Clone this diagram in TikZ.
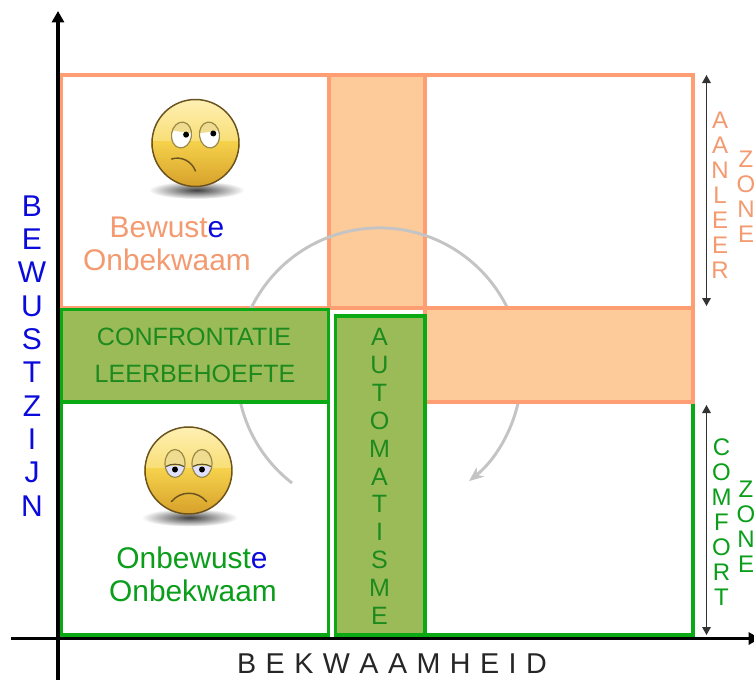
\documentclass[tikz,border=0pt]{standalone}
\usepackage{fontspec}
\setmainfont{Liberation Sans}
\usetikzlibrary{arrows.meta}
\definecolor{orline}{HTML}{FF9E72}
\definecolor{orfill}{HTML}{FDCB9A}
\definecolor{ortext}{HTML}{F49A70}
\definecolor{grline}{HTML}{0BAA14}
\definecolor{grfill}{HTML}{9BBB59}
\definecolor{grtext}{HTML}{0A9E1A}
\definecolor{darkgr}{HTML}{1E8A1E}
\definecolor{blu}{HTML}{0A0ADC}
\definecolor{arcgray}{HTML}{C4C4C4}
\definecolor{faceline}{HTML}{6B5320}
\definecolor{lid}{HTML}{F0DC90}
\definecolor{rim}{HTML}{9A8A48}
\definecolor{glosstop}{HTML}{FFF0B4}
\definecolor{glossbot}{HTML}{F8DE76}
\definecolor{bodytop}{HTML}{F6D24C}
\definecolor{bodybot}{HTML}{D6A02A}
\tikzset{
 x=0.75pt,y=-0.75pt,
 orframe/.style={draw=orline,line width=2.7pt},
 orbox/.style={draw=orline,line width=2.7pt,fill=orfill},
 grframe/.style={draw=grline,line width=2.8pt},
 grbox/.style={draw=grline,line width=2.8pt,fill=grfill},
 axisline/.style={black,line width=2.4pt,-{Triangle[length=8.5pt,width=9pt]}},
 zonearrow/.style={black!80,line width=0.8pt,{Triangle[length=6pt,width=6.5pt]}-{Triangle[length=6pt,width=6.5pt]}},
 cyc/.style={arcgray,line width=2.2pt,-{Stealth[length=11pt,width=9pt,inset=3.5pt]}},
 facecap/.style={inner sep=0pt,anchor=base,font=\fontsize{22.4}{24}\selectfont},
 boxcap/.style={inner sep=0pt,anchor=base,text=darkgr,font=\fontsize{18.8}{20}\selectfont},
 autostack/.style={inner sep=0pt,align=center,text=darkgr,font=\fontsize{18.8}{20.9}\selectfont},
 bigstack/.style={inner sep=0pt,align=center,text=blu,font=\fontsize{22.5}{25}\selectfont},
 zonestack/.style={inner sep=0pt,align=center,font=\fontsize{18}{18.8}\selectfont},
 facemouth/.style={faceline,line width=1.1pt,line cap=round},
}
\newcommand{\facebase}{%
 \shade[inner color=black!75,outer color=white] (1,47) ellipse (48 and 9);
 \begin{scope}
  \clip (0,0) circle (44);
  \shade[top color=glosstop,bottom color=glossbot] (-44,-44) rectangle (44,-2);
  \shade[top color=bodytop,bottom color=bodybot] (-44,-2) rectangle (44,44);
 \end{scope}
 \draw[faceline,line width=1.1pt] (0,0) circle (43.5);
}
\newcommand{\lookeye}[3]{% x, pupil offset, tilt
 \begin{scope}[shift={(#1,-8)},rotate=#3]
  \fill[lid] (0,0) ellipse (10 and 13);
  \begin{scope}
   \clip (0,0) ellipse (10 and 13);
   \fill[white] (-12,-3) rectangle (12,14);
  \end{scope}
  \draw[rim,line width=.9pt] (0,0) ellipse (10 and 13);
  \fill[black] (#2,-1) circle (3);
 \end{scope}
}
\newcommand{\sadeye}[1]{%
 \begin{scope}[shift={(#1,-7)}]
  \fill[lid] (0,0) ellipse (10 and 14);
  \begin{scope}
   \clip (0,0) ellipse (10 and 14);
   \fill[white!88!blue] (-12,2) rectangle (12,15);
  \end{scope}
  \draw[rim,line width=.9pt] (0,0) ellipse (10 and 14);
  \draw[black!40!rim,line width=.9pt] (-9,3) .. controls (-4,0) and (4,0) .. (9,3);
  \fill[black] (0,6) circle (3);
 \end{scope}
}
\begin{document}
\begin{tikzpicture}
\useasboundingbox (0,0) rectangle (754,679);
\fill[white] (0,0) rectangle (754,679);
% upper frames and vertical orange bar
\draw[orframe] (61,75) rectangle (329,308);
\draw[orframe] (425,75) rectangle (693,308);
\draw[orbox] (329,75) rectangle (425,308);
% cycle arrow, running behind the horizontal bars
\draw[cyc] (292,483) arc[start angle=127.8,end angle=411,radius=142.5];
% lower frames
\draw[grframe] (693,402) -- (693,635) -- (425,635);
\draw[orbox] (425,308) rectangle (693,402);
\draw[grframe] (61,402) rectangle (328.5,635);
\draw[grbox] (61,309.5) rectangle (328.5,402);
\draw[grbox] (335.5,316) rectangle (425,635);
% axes
\coordinate (yfoot) at (58,680);
\coordinate (ytip) at (58,11);
\coordinate (xfoot) at (11,638.5);
\coordinate (xtip) at (760,638.5);
\draw[axisline] (yfoot) -- (ytip);
\draw[axisline] (xfoot) -- (xtip);
% zone arrows
\coordinate (a1) at (706.5,75);
\coordinate (a2) at (706.5,306);
\coordinate (c1) at (706.5,405);
\coordinate (c2) at (706.5,635);
\draw[zonearrow] (a1) -- (a2);
\draw[zonearrow] (c1) -- (c2);
% faces
\begin{scope}[shift={(195.5,143)}]
 \facebase
 \lookeye{-14}{4.5}{-8}
 \lookeye{14}{4}{8}
 \draw[facemouth] (-24,16) .. controls (-14,13) and (-4,18) .. (0,28);
\end{scope}
\begin{scope}[shift={(188.5,470.5)}]
 \facebase
 \sadeye{-13.5}
 \sadeye{13.5}
 \draw[facemouth] (-17,31) .. controls (-8,20) and (9,20) .. (18,31);
\end{scope}
% texts
\node[facecap,text=ortext] (bew) at (167,237) {Bewust\textcolor{blu}{e}};
\node[facecap,text=ortext] (onb1) at (167,270.5) {Onbekwaam};
\node[facecap,text=grtext] (onb2) at (192,568) {Onbewust\textcolor{blu}{e}};
\node[facecap,text=grtext] (onb3) at (193,601.5) {Onbekwaam};
\node[boxcap] (conf) at (194,345.5) {CONFRONTATIE};
\node[boxcap] (leer) at (195,382.5) {LEERBEHOEFTE};
\node[autostack] (auto) at (379.5,476.5) {A\\U\\T\\O\\M\\A\\T\\I\\S\\M\\E};
\node[bigstack] (bewustzijn) at (32,356) {B\\E\\W\\U\\S\\T\\Z\\I\\J\\N};
\node[zonestack,text=ortext] (aanleer) at (720,195.5) {A\\A\\N\\L\\E\\E\\R};
\node[zonestack,text=ortext] (zone1) at (746,197) {Z\\O\\N\\E};
\node[zonestack,text=grtext] (comfort) at (721.5,522) {C\\O\\M\\F\\O\\R\\T};
\node[zonestack,text=grtext] (zone2) at (746,526.5) {Z\\O\\N\\E};
\node[inner sep=0pt,anchor=base,text=black!85,font=\fontsize{21.5}{24}\selectfont] (bekw) at (392,673.5) {\spaceskip=7.1pt B E K W A A M H E I D};
\end{tikzpicture}
\end{document}
